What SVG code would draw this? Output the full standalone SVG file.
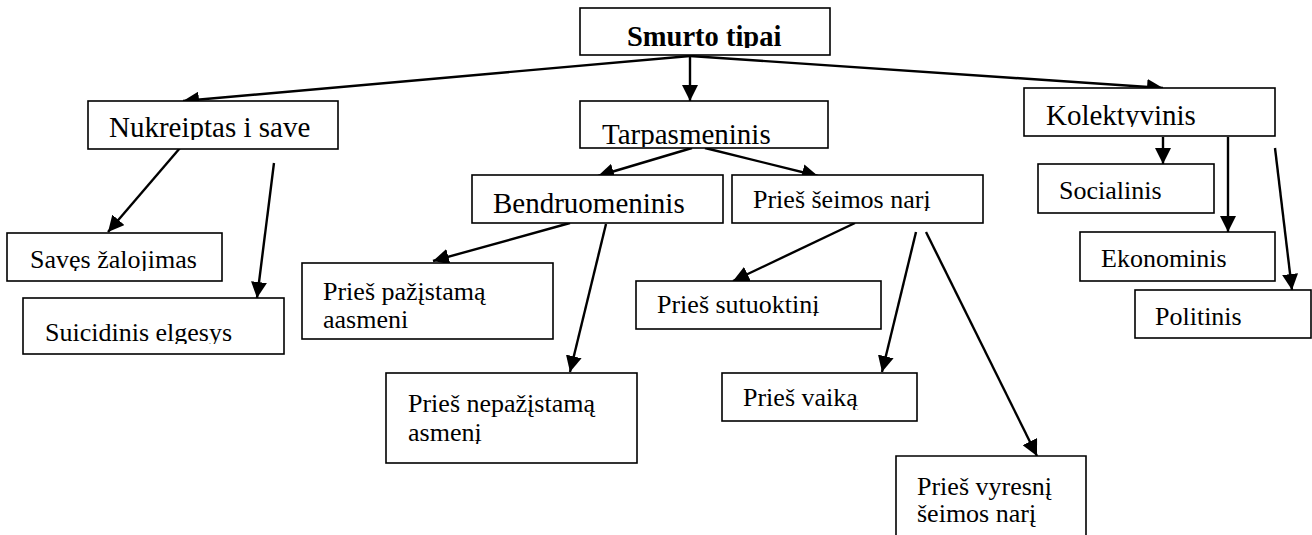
<svg xmlns="http://www.w3.org/2000/svg" width="1312" height="535" viewBox="0 0 1312 535">
<style>
.box{fill:#fff;stroke:#000;stroke-width:1.6}
.t{font-family:'Liberation Serif',serif;fill:#000}
.l1{font-size:29px}
.lf{font-size:26px}
.title{font-size:28.5px;font-weight:bold}
.c line{stroke:#000;stroke-width:2.4;marker-end:url(#ah)}
</style>
<defs>
<marker id="ah" markerUnits="userSpaceOnUse" markerWidth="16" markerHeight="16" viewBox="0 0 16 16" refX="16" refY="8" orient="auto">
<path d="M0,0 L16,8 L0,16 z" fill="#000"/>
</marker>
<clipPath id="cTitle"><rect x="580" y="8" width="250" height="40"/></clipPath>
<clipPath id="cNuk"><rect x="88" y="101" width="250" height="39"/></clipPath>
<clipPath id="cTar"><rect x="580" y="101" width="248" height="46"/></clipPath>
<clipPath id="cKol"><rect x="1024" y="88" width="251" height="39"/></clipPath>
<clipPath id="cSei"><rect x="732" y="175" width="251" height="36"/></clipPath>
<clipPath id="cSav"><rect x="7" y="233" width="215" height="38"/></clipPath>
<clipPath id="cSui"><rect x="23" y="298" width="261" height="46"/></clipPath>
<clipPath id="cNep"><rect x="386" y="373" width="251" height="71"/></clipPath>
<clipPath id="cSut"><rect x="636" y="281" width="245" height="35"/></clipPath>
<clipPath id="cVai"><rect x="722" y="373" width="195" height="37"/></clipPath>
<clipPath id="cVyr"><rect x="896" y="456" width="190" height="71"/></clipPath>
</defs>

<g id="connectors" class="c">
<line x1="690" y1="56" x2="183" y2="101"/>
<line x1="690" y1="56" x2="690" y2="101"/>
<line x1="690" y1="56" x2="1163" y2="88"/>
<line x1="180" y1="148" x2="108" y2="232"/>
<line x1="274" y1="163" x2="257" y2="298"/>
<line x1="692" y1="148" x2="598" y2="176"/>
<line x1="705" y1="148" x2="818" y2="176"/>
<line x1="570" y1="223" x2="433" y2="261"/>
<line x1="606" y1="224" x2="570" y2="372"/>
<line x1="855" y1="223" x2="733" y2="281"/>
<line x1="916" y1="232" x2="882" y2="372"/>
<line x1="926" y1="232" x2="1037" y2="456"/>
<line x1="1163" y1="137" x2="1163" y2="164"/>
<line x1="1228" y1="137" x2="1228" y2="232"/>
<line x1="1275" y1="148" x2="1292" y2="290"/>
</g>

<g id="n-smurto"><rect class="box" x="580" y="8" width="250" height="47"/><text class="t title" x="627" y="46" clip-path="url(#cTitle)">Smurto tipai</text></g>
<g id="n-nukreiptas"><rect class="box" x="88" y="101" width="250" height="48"/><text class="t l1" x="109" y="137" clip-path="url(#cNuk)">Nukreiptas i save</text></g>
<g id="n-tarpasmeninis"><rect class="box" x="580" y="101" width="248" height="47"/><text class="t l1" x="602" y="144" clip-path="url(#cTar)">Tarpasmeninis</text></g>
<g id="n-kolektyvinis"><rect class="box" x="1024" y="88" width="251" height="48"/><text class="t l1" x="1046" y="125" clip-path="url(#cKol)">Kolektyvinis</text></g>
<g id="n-bendruomeninis"><rect class="box" x="472" y="175" width="251" height="48"/><text class="t l1" x="493" y="213">Bendruomeninis</text></g>
<g id="n-seimos"><rect class="box" x="732" y="175" width="251" height="48"/><text class="t lf" x="753" y="208" clip-path="url(#cSei)">Prieš šeimos narį</text></g>
<g id="n-saves"><rect class="box" x="7" y="233" width="215" height="48"/><text class="t lf" x="30" y="268" clip-path="url(#cSav)">Savęs žalojimas</text></g>
<g id="n-suicidinis"><rect class="box" x="23" y="298" width="261" height="56"/><text class="t lf" x="45" y="341" clip-path="url(#cSui)">Suicidinis elgesys</text></g>
<g id="n-pazistama"><rect class="box" x="302" y="263" width="251" height="76"/><text class="t lf" x="323" y="300">Prieš pažįstamą</text><text class="t lf" x="323" y="328">aasmeni</text></g>
<g id="n-nepazistama"><rect class="box" x="386" y="373" width="251" height="90"/><text class="t lf" x="408" y="412" clip-path="url(#cNep)">Prieš nepažįstamą</text><text class="t lf" x="408" y="441" clip-path="url(#cNep)">asmenį</text></g>
<g id="n-sutuoktini"><rect class="box" x="636" y="281" width="245" height="48"/><text class="t lf" x="657" y="313" clip-path="url(#cSut)">Prieš sutuoktinį</text></g>
<g id="n-vaika"><rect class="box" x="722" y="373" width="195" height="48"/><text class="t lf" x="743" y="406" clip-path="url(#cVai)">Prieš vaiką</text></g>
<g id="n-vyresni"><path class="box" d="M896,536 V456 H1086 V536"/><text class="t lf" x="917" y="495" clip-path="url(#cVyr)">Prieš vyresnį</text><text class="t lf" x="917" y="522" clip-path="url(#cVyr)">šeimos narį</text></g>
<g id="n-socialinis"><rect class="box" x="1038" y="164" width="176" height="49"/><text class="t lf" x="1059" y="199">Socialinis</text></g>
<g id="n-ekonominis"><rect class="box" x="1080" y="232" width="195" height="49"/><text class="t lf" x="1101" y="267">Ekonominis</text></g>
<g id="n-politinis"><rect class="box" x="1135" y="290" width="176" height="48"/><text class="t lf" x="1155" y="325">Politinis</text></g>
</svg>
